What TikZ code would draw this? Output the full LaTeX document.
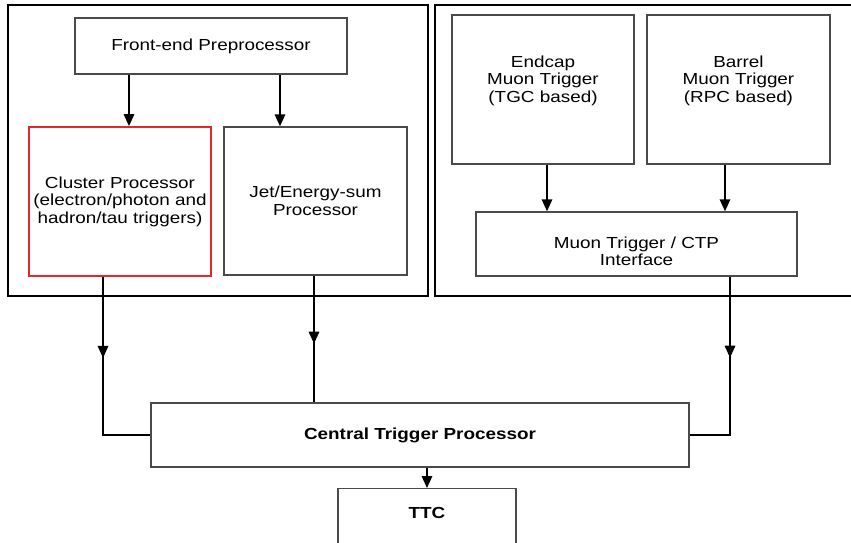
\documentclass[tikz,border=0pt]{standalone}
\usepackage{fontspec}
\setmainfont{Liberation Sans}[FakeStretch=1.18]
\usetikzlibrary{arrows.meta, positioning, decorations.markings}
\definecolor{boxgray}{HTML}{4A4A4A}
\definecolor{clred}{HTML}{E5262B}
\newcommand{\diagfont}{\fontsize{16}{17.5}\selectfont}

\begin{document}
\begin{tikzpicture}[
    x=1pt, y=-1pt,
    every node/.style={font=\diagfont},
    unit/.style={draw=boxgray, line width=1.4pt, align=center, inner sep=0pt},
    lbl/.style={align=center, inner sep=0pt},
    bold/.style={font=\diagfont\bfseries},
    frame/.style={draw, line width=2.6pt},
    wire/.style={line width=1.6pt},
    arr/.style={wire, -{Triangle[length=12pt, width=10.5pt]}},
    headat/.style={postaction={decorate, decoration={markings,
        mark=at position #1 with {\arrow{Triangle[length=12pt, width=10.5pt]}}}}},
]
    \useasboundingbox (0,0) rectangle (851,542);
    \clip (0,0) rectangle (851,542);

    % calorimeter trigger
    \draw[frame] (8,5) rectangle (428,296);
    \node[unit, minimum width=272pt, minimum height=56pt] (fep) at (211,46) {Front-end Preprocessor};
    \node[unit, draw=clred, line width=1.8pt, minimum width=182pt, minimum height=149pt] (cluster) at (120,201.5)
        {Cluster Processor\\(electron/photon and\\hadron/tau triggers)};
    \node[unit, minimum width=183pt, minimum height=148pt] (jet) at (315.5,201) {Jet/Energy-sum\\Processor};

    % muon trigger
    \draw[frame] (435,5) rectangle (870,296);
    \node[unit, minimum width=182pt, minimum height=149pt] (endcap) at (543,89.5) {};
    \node[lbl, below=41pt of endcap.north] (endcaptxt) {Endcap\\Muon Trigger\\(TGC based)};
    \node[unit, minimum width=183pt, minimum height=149pt] (barrel) at (738.5,89.5) {};
    \node[lbl, below=41pt of barrel.north] (barreltxt) {Barrel\\Muon Trigger\\(RPC based)};
    \node[unit, minimum width=321pt, minimum height=64pt] (muctp) at (636.5,244) {};
    \node[lbl, below=25pt of muctp.north] (muctptxt) {Muon Trigger / CTP\\Interface};

    % CTP and TTC
    \node[unit, bold, minimum width=538pt, minimum height=64pt] (ctp) at (420,435) {Central Trigger Processor};
    \node[unit, minimum width=178pt, minimum height=80pt, anchor=north] (ttc) at (427,488) {};
    \node[lbl, bold, below=19pt of ttc.north] (ttctxt) {TTC};

    % preprocessor feeds both processors
    \draw[arr] ([xshift=9pt]cluster.north |- fep.south) -- ([xshift=9pt]cluster.north);
    \draw[arr] ([xshift=-35.5pt]jet.north |- fep.south) -- ([xshift=-35.5pt]jet.north);

    % muon sectors into the interface
    \draw[arr] ([xshift=4pt]endcap.south) -- ([xshift=4pt]endcap.south |- muctp.north);
    \draw[arr] ([xshift=-13.5pt]barrel.south) -- ([xshift=-13.5pt]barrel.south |- muctp.north);

    % everything into the CTP
    \draw[wire, headat=81pt] ([xshift=-17pt]cluster.south) |- (ctp.west);
    \draw[wire, headat=68pt] ([xshift=-1.5pt]jet.south) -- ([xshift=-1.5pt]jet.south |- ctp.north);
    \draw[wire, headat=81pt] ([xshift=93.5pt]muctp.south) |- (ctp.east);
    \draw[arr] (ctp.south -| ttc.north) -- (ttc.north);
\end{tikzpicture}
\end{document}
